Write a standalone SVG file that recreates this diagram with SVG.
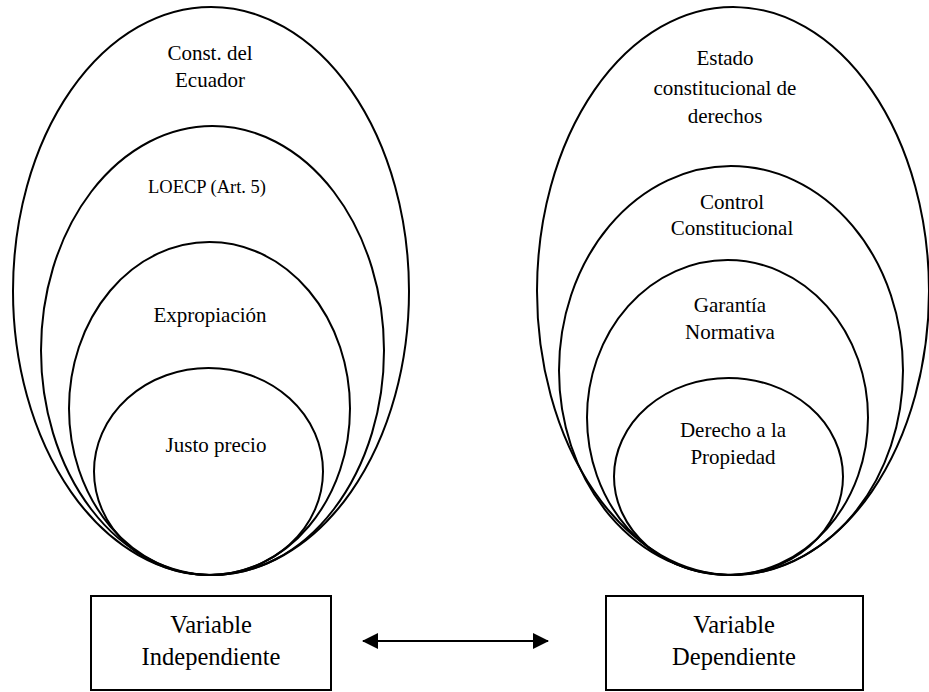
<svg xmlns="http://www.w3.org/2000/svg" width="929" height="692" viewBox="0 0 929 692">
<style>
.e{fill:none;stroke:#000;stroke-width:2}
.b{fill:#fff;stroke:#000;stroke-width:2}
text{font-family:'Liberation Serif',Tinos,'Times New Roman',Times,'DejaVu Serif',serif;font-size:21px;fill:#000;text-anchor:middle}
.s{font-size:18.5px}
.v{font-size:24.5px}
</style>
<defs>
<marker id="ah" viewBox="0 0 16 16" refX="15" refY="8" markerWidth="16" markerHeight="16" markerUnits="userSpaceOnUse" orient="auto-start-reverse">
<path d="M0,0 L16,8 L0,16 Z" fill="#000"/>
</marker>
</defs>
<rect width="929" height="692" fill="#fff"/>
<g id="left-set" font-family="Liberation Serif, Tinos, Times New Roman, serif">
<g id="const-ecuador"><ellipse class="e" cx="211" cy="291" rx="198" ry="284"/>
<text x="210" y="60">Const. del</text><text x="210" y="87">Ecuador</text></g>
<g id="loecp"><ellipse class="e" cx="212.5" cy="350.5" rx="171.5" ry="224.5"/>
<text class="s" x="207" y="193">LOECP (Art. 5)</text></g>
<g id="expropiacion"><ellipse class="e" cx="209.5" cy="408.5" rx="140.5" ry="166.5"/>
<text x="210" y="322">Expropiación</text></g>
<g id="justo-precio"><ellipse class="e" cx="208.5" cy="471.5" rx="114.5" ry="103.5"/>
<text x="216" y="452">Justo precio</text></g>
</g>
<g id="right-set">
<g id="estado"><ellipse class="e" cx="733" cy="291" rx="196" ry="284"/>
<text x="725" y="65">Estado</text><text x="725" y="95">constitucional de</text><text x="725" y="123">derechos</text></g>
<g id="control"><ellipse class="e" cx="731" cy="370.5" rx="172" ry="204.5"/>
<text x="732" y="209">Control</text><text x="732" y="235">Constitucional</text></g>
<g id="garantia"><ellipse class="e" cx="727.5" cy="417.5" rx="140.5" ry="157.5"/>
<text x="730" y="312">Garantía</text><text x="730" y="339">Normativa</text></g>
<g id="derecho"><ellipse class="e" cx="728.5" cy="476.5" rx="114.5" ry="98.5"/>
<text x="733" y="437">Derecho a la</text><text x="733" y="464">Propiedad</text></g>
</g>
<g id="var-independiente"><rect class="b" x="91" y="596" width="240" height="94"/>
<text class="v" x="211" y="633">Variable</text><text class="v" x="211" y="665">Independiente</text></g>
<g id="var-dependiente"><rect class="b" x="606" y="596" width="257" height="94"/>
<text class="v" x="734" y="633">Variable</text><text class="v" x="734" y="665">Dependiente</text></g>
<g id="connectors">
<line x1="363" y1="641" x2="548" y2="641" stroke="#000" stroke-width="2" marker-start="url(#ah)" marker-end="url(#ah)"/>
</g>
</svg>
